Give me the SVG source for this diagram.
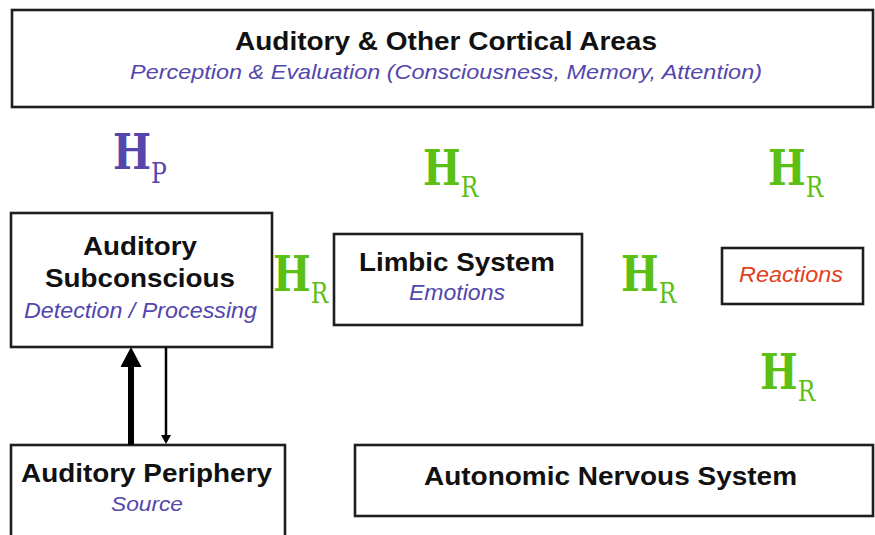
<svg xmlns="http://www.w3.org/2000/svg" width="875" height="535" viewBox="0 0 875 535">
  <defs>
    <style>
      .box { fill: #ffffff; stroke: #1e1e1e; stroke-width: 2.6; }
      .title { font-family: "Liberation Sans", Arial, sans-serif; font-weight: bold; fill: #111111; text-anchor: middle; }
      .sub { font-family: "Liberation Sans", Arial, sans-serif; font-style: italic; fill: #5347ad; text-anchor: middle; }
      .red { font-family: "Liberation Sans", Arial, sans-serif; font-style: italic; fill: #e3401e; text-anchor: middle; }
      .h { font-family: "DejaVu Serif", "Liberation Serif", serif; font-weight: bold; font-size: 48px; }
      .s { font-weight: normal; font-size: 28px; }
      .green { fill: #5cbf14; }
      .purple { fill: #5546ab; }
      .conn { stroke: #000000; fill: none; }
    </style>
    <marker id="headThick" markerUnits="userSpaceOnUse" viewBox="0 -10.5 20 21" refX="0" refY="0" markerWidth="20" markerHeight="21" orient="auto">
      <path d="M0,-10.5 L20,0 L0,10.5 Z" fill="#000000"/>
    </marker>
    <marker id="headThin" markerUnits="userSpaceOnUse" viewBox="0 -5 9 10" refX="0" refY="0" markerWidth="9" markerHeight="10" orient="auto">
      <path d="M0,-5 L9,0 L0,5 Z" fill="#000000"/>
    </marker>
  </defs>

  <rect width="875" height="535" fill="#ffffff"/>

  <g id="cortical">
    <rect class="box" x="12" y="10" width="861" height="97"/>
    <text class="title" x="446" y="50" font-size="25" textLength="422" lengthAdjust="spacingAndGlyphs">Auditory &amp; Other Cortical Areas</text>
    <text class="sub" x="446" y="79" font-size="21" textLength="632" lengthAdjust="spacingAndGlyphs">Perception &amp; Evaluation (Consciousness, Memory, Attention)</text>
  </g>

  <g id="subconscious">
    <rect class="box" x="11" y="213" width="261" height="134"/>
    <text class="title" x="140" y="255" font-size="26" textLength="114" lengthAdjust="spacingAndGlyphs">Auditory</text>
    <text class="title" x="140" y="287" font-size="26" textLength="190" lengthAdjust="spacingAndGlyphs">Subconscious</text>
    <text class="sub" x="140.5" y="318" font-size="22" textLength="233" lengthAdjust="spacingAndGlyphs">Detection / Processing</text>
  </g>

  <g id="limbic">
    <rect class="box" x="334" y="234" width="248" height="91"/>
    <text class="title" x="457" y="271" font-size="26" textLength="196" lengthAdjust="spacingAndGlyphs">Limbic System</text>
    <text class="sub" x="457" y="300" font-size="22" textLength="96" lengthAdjust="spacingAndGlyphs">Emotions</text>
  </g>

  <g id="reactions">
    <rect class="box" x="722" y="248" width="141" height="56"/>
    <text class="red" x="791" y="282" font-size="22" textLength="104" lengthAdjust="spacingAndGlyphs">Reactions</text>
  </g>

  <g id="periphery">
    <rect class="box" x="11" y="445" width="274" height="100"/>
    <text class="title" x="146.5" y="482" font-size="26" textLength="251" lengthAdjust="spacingAndGlyphs">Auditory Periphery</text>
    <text class="sub" x="147" y="511" font-size="21" textLength="72" lengthAdjust="spacingAndGlyphs">Source</text>
  </g>

  <g id="autonomic">
    <rect class="box" x="355" y="445" width="518" height="71"/>
    <text class="title" x="610.5" y="485" font-size="26" textLength="373" lengthAdjust="spacingAndGlyphs">Autonomic Nervous System</text>
  </g>

  <g id="hp" transform="translate(113,169) scale(0.84,1)">
    <text class="h purple" x="0" y="0" font-size="44">H<tspan class="s" dy="14" font-size="29">P</tspan></text>
  </g>

  <g id="hr-top-mid" transform="translate(423,185) scale(0.83,1)">
    <text class="h green" x="0" y="0">H<tspan class="s" dy="12">R</tspan></text>
  </g>

  <g id="hr-top-right" transform="translate(768,185) scale(0.83,1)">
    <text class="h green" x="0" y="0">H<tspan class="s" dy="12">R</tspan></text>
  </g>

  <g id="hr-left" transform="translate(273,291) scale(0.83,1)">
    <text class="h green" x="0" y="0">H<tspan class="s" dy="12">R</tspan></text>
  </g>

  <g id="hr-mid" transform="translate(621,291) scale(0.83,1)">
    <text class="h green" x="0" y="0">H<tspan class="s" dy="12">R</tspan></text>
  </g>

  <g id="hr-bottom" transform="translate(760,389) scale(0.83,1)">
    <text class="h green" x="0" y="0">H<tspan class="s" dy="12">R</tspan></text>
  </g>

  <g id="connectors">
    <line class="conn" x1="131" y1="445" x2="131" y2="367" stroke-width="6" marker-end="url(#headThick)"/>
    <line class="conn" x1="166" y1="347" x2="166" y2="435" stroke-width="2.5" marker-end="url(#headThin)"/>
  </g>
</svg>
